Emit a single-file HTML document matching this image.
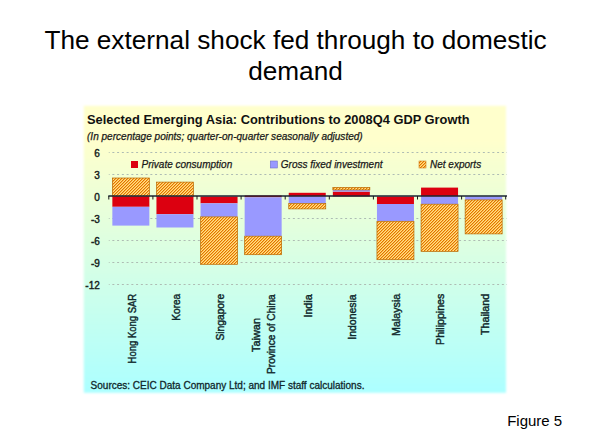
<!DOCTYPE html>
<html><head><meta charset="utf-8"><style>
html,body{margin:0;padding:0;background:#fff;width:590px;height:443px;overflow:hidden}
body{position:relative;font-family:"Liberation Sans",sans-serif}
.t{position:absolute;left:0.5px;width:590px;text-align:center;font-size:26.2px;color:#000;white-space:nowrap;line-height:30px}
svg{position:absolute;left:0;top:0}
svg text{font-family:"Liberation Sans",sans-serif}
.ax{font-size:10px;fill:#141c1c;stroke:#141c1c;stroke-width:0.4px}
.cat{font-size:10px;fill:#10282c;stroke:#10282c;stroke-width:0.4px}
</style></head><body>
<div class="t" style="top:25px">The external shock fed through to domestic</div>
<div class="t" style="top:56px">demand</div>
<svg width="590" height="443" viewBox="0 0 590 443">
<defs>
<linearGradient id="bg" x1="0" y1="0" x2="0" y2="1">
<stop offset="0.12" stop-color="#FFFFCC"/><stop offset="0.99" stop-color="#ADFFFF"/>
</linearGradient>
<filter id="soft" x="-5%" y="-5%" width="110%" height="110%"><feGaussianBlur stdDeviation="0.9"/></filter>
<pattern id="hatch" patternUnits="userSpaceOnUse" x="0" y="0" width="3" height="3" shape-rendering="crispEdges"><rect x="0" y="0" width="1" height="1" fill="#FCB444"/><rect x="1" y="0" width="1" height="1" fill="#FFE088"/><rect x="2" y="0" width="1" height="1" fill="#E07400"/><rect x="0" y="1" width="1" height="1" fill="#FFE088"/><rect x="1" y="1" width="1" height="1" fill="#E07400"/><rect x="2" y="1" width="1" height="1" fill="#FCB444"/><rect x="0" y="2" width="1" height="1" fill="#E07400"/><rect x="1" y="2" width="1" height="1" fill="#FCB444"/><rect x="2" y="2" width="1" height="1" fill="#FFE088"/></pattern>
</defs>
<rect x="83.8" y="105.8" width="422.2" height="287" fill="url(#bg)" filter="url(#soft)"/>
<text x="87" y="123.5" font-size="12.85" font-weight="bold" fill="#111">Selected Emerging Asia: Contributions to 2008Q4 GDP Growth</text>
<text x="87" y="139.5" font-size="10.05" font-style="italic" fill="#1a1a1a" stroke="#1a1a1a" stroke-width="0.25">(In percentage points; quarter-on-quarter seasonally adjusted)</text>
<line x1="108.8" y1="152.50" x2="507" y2="152.50" stroke="#AEBCB4" stroke-width="1" stroke-dasharray="2 2.75" stroke-dashoffset="1.2"/><line x1="108.8" y1="174.50" x2="507" y2="174.50" stroke="#AEBCB4" stroke-width="1" stroke-dasharray="2 2.75" stroke-dashoffset="1.2"/><line x1="108.8" y1="218.50" x2="507" y2="218.50" stroke="#AEBCB4" stroke-width="1" stroke-dasharray="2 2.75" stroke-dashoffset="1.2"/><line x1="108.8" y1="240.50" x2="507" y2="240.50" stroke="#AEBCB4" stroke-width="1" stroke-dasharray="2 2.75" stroke-dashoffset="1.2"/><line x1="108.8" y1="262.50" x2="507" y2="262.50" stroke="#AEBCB4" stroke-width="1" stroke-dasharray="2 2.75" stroke-dashoffset="1.2"/><line x1="108.8" y1="284.50" x2="507" y2="284.50" stroke="#AEBCB4" stroke-width="1" stroke-dasharray="2 2.75" stroke-dashoffset="1.2"/>
<rect x="112.35" y="178.00" width="37.00" height="18.50" fill="url(#hatch)" stroke="#B86800" stroke-width="0.7"/><rect x="112.35" y="196.50" width="37.00" height="10.30" fill="#DC0010"/><rect x="112.35" y="206.80" width="37.00" height="18.80" fill="#9999FF"/><rect x="156.45" y="182.10" width="37.00" height="14.40" fill="url(#hatch)" stroke="#B86800" stroke-width="0.7"/><rect x="156.45" y="196.50" width="37.00" height="17.70" fill="#DC0010"/><rect x="156.45" y="214.20" width="37.00" height="13.30" fill="#9999FF"/><rect x="200.55" y="196.50" width="37.00" height="6.80" fill="#DC0010"/><rect x="200.55" y="203.30" width="37.00" height="13.60" fill="#9999FF"/><rect x="200.55" y="216.90" width="37.00" height="47.40" fill="url(#hatch)" stroke="#B86800" stroke-width="0.7"/><rect x="244.65" y="195.50" width="37.00" height="1.80" fill="#DC0010"/><rect x="244.65" y="197.30" width="37.00" height="38.90" fill="#9999FF"/><rect x="244.65" y="236.20" width="37.00" height="18.50" fill="url(#hatch)" stroke="#B86800" stroke-width="0.7"/><rect x="288.75" y="192.80" width="37.00" height="3.70" fill="#DC0010"/><rect x="288.75" y="196.50" width="37.00" height="7.00" fill="#9999FF"/><rect x="288.75" y="203.50" width="37.00" height="5.40" fill="url(#hatch)" stroke="#B86800" stroke-width="0.7"/><rect x="332.85" y="191.60" width="37.00" height="4.90" fill="#DC0010"/><rect x="332.85" y="189.90" width="37.00" height="1.70" fill="#9999FF"/><rect x="332.85" y="187.40" width="37.00" height="2.50" fill="url(#hatch)" stroke="#B86800" stroke-width="0.7"/><rect x="376.95" y="196.50" width="37.00" height="7.50" fill="#DC0010"/><rect x="376.95" y="204.00" width="37.00" height="17.30" fill="#9999FF"/><rect x="376.95" y="221.30" width="37.00" height="38.40" fill="url(#hatch)" stroke="#B86800" stroke-width="0.7"/><rect x="421.05" y="187.60" width="37.00" height="8.90" fill="#DC0010"/><rect x="421.05" y="196.50" width="37.00" height="7.70" fill="#9999FF"/><rect x="421.05" y="204.20" width="37.00" height="47.20" fill="url(#hatch)" stroke="#B86800" stroke-width="0.7"/><rect x="465.15" y="196.50" width="37.00" height="3.40" fill="#9999FF"/><rect x="465.15" y="199.90" width="37.00" height="34.00" fill="url(#hatch)" stroke="#B86800" stroke-width="0.7"/>
<line x1="108.3" y1="196.0" x2="507" y2="196.0" stroke="#1A2434" stroke-width="1.3"/>
<line x1="108.80" y1="196.00" x2="108.80" y2="199.50" stroke="#1a1a1a" stroke-width="1"/><line x1="152.90" y1="196.00" x2="152.90" y2="199.50" stroke="#1a1a1a" stroke-width="1"/><line x1="197.00" y1="196.00" x2="197.00" y2="199.50" stroke="#1a1a1a" stroke-width="1"/><line x1="241.10" y1="196.00" x2="241.10" y2="199.50" stroke="#1a1a1a" stroke-width="1"/><line x1="285.20" y1="196.00" x2="285.20" y2="199.50" stroke="#1a1a1a" stroke-width="1"/><line x1="329.30" y1="196.00" x2="329.30" y2="199.50" stroke="#1a1a1a" stroke-width="1"/><line x1="373.40" y1="196.00" x2="373.40" y2="199.50" stroke="#1a1a1a" stroke-width="1"/><line x1="417.50" y1="196.00" x2="417.50" y2="199.50" stroke="#1a1a1a" stroke-width="1"/><line x1="461.60" y1="196.00" x2="461.60" y2="199.50" stroke="#1a1a1a" stroke-width="1"/><line x1="505.70" y1="196.00" x2="505.70" y2="199.50" stroke="#1a1a1a" stroke-width="1"/>
<text x="99.8" y="157.10" text-anchor="end" class="ax">6</text><text x="99.8" y="179.10" text-anchor="end" class="ax">3</text><text x="99.8" y="201.10" text-anchor="end" class="ax">0</text><text x="99.8" y="223.10" text-anchor="end" class="ax">-3</text><text x="99.8" y="245.10" text-anchor="end" class="ax">-6</text><text x="99.8" y="267.10" text-anchor="end" class="ax">-9</text><text x="99.8" y="289.10" text-anchor="end" class="ax">-12</text>
<rect x="131" y="161" width="7" height="7" fill="#DC0010"/>
<text x="141.6" y="167.7" font-size="10" font-style="italic" fill="#1a1a1a" stroke="#1a1a1a" stroke-width="0.25">Private consumption</text>
<rect x="270.3" y="161" width="7" height="7" fill="#9999FF" stroke="#7070C8" stroke-width="0.6"/>
<text x="280.8" y="167.7" font-size="10" font-style="italic" fill="#1a1a1a" stroke="#1a1a1a" stroke-width="0.25">Gross fixed investment</text>
<rect x="419" y="161" width="7" height="7" fill="url(#hatch)" stroke="#C86400" stroke-width="0.5"/>
<text x="430" y="167.7" font-size="10" font-style="italic" fill="#1a1a1a" stroke="#1a1a1a" stroke-width="0.25">Net exports</text>
<text transform="translate(135.60,363.40) rotate(-90)" textLength="69.60" lengthAdjust="spacingAndGlyphs" class="cat">Hong Kong SAR</text><text transform="translate(179.50,320.70) rotate(-90)" textLength="26.90" lengthAdjust="spacingAndGlyphs" class="cat">Korea</text><text transform="translate(223.60,340.60) rotate(-90)" textLength="46.80" lengthAdjust="spacingAndGlyphs" class="cat">Singapore</text><text transform="translate(260.20,352.00) rotate(-90)" textLength="34.00" lengthAdjust="spacingAndGlyphs" class="cat">Taiwan</text><text transform="translate(274.90,373.90) rotate(-90)" textLength="79.60" lengthAdjust="spacingAndGlyphs" class="cat">Province of China</text><text transform="translate(311.70,317.60) rotate(-90)" textLength="23.30" lengthAdjust="spacingAndGlyphs" class="cat">India</text><text transform="translate(356.30,339.70) rotate(-90)" textLength="45.40" lengthAdjust="spacingAndGlyphs" class="cat">Indonesia</text><text transform="translate(400.00,335.90) rotate(-90)" textLength="42.10" lengthAdjust="spacingAndGlyphs" class="cat">Malaysia</text><text transform="translate(443.50,344.90) rotate(-90)" textLength="51.10" lengthAdjust="spacingAndGlyphs" class="cat">Philippines</text><text transform="translate(488.70,335.00) rotate(-90)" textLength="41.20" lengthAdjust="spacingAndGlyphs" class="cat">Thailand</text>
<text x="90.6" y="389" font-size="10" fill="#10282c" stroke="#10282c" stroke-width="0.3">Sources: CEIC Data Company Ltd; and IMF staff calculations.</text>
<text x="507.2" y="425.5" font-size="15" fill="#000" style="font-family:'Liberation Sans',sans-serif">Figure 5</text>
</svg>
</body></html>
